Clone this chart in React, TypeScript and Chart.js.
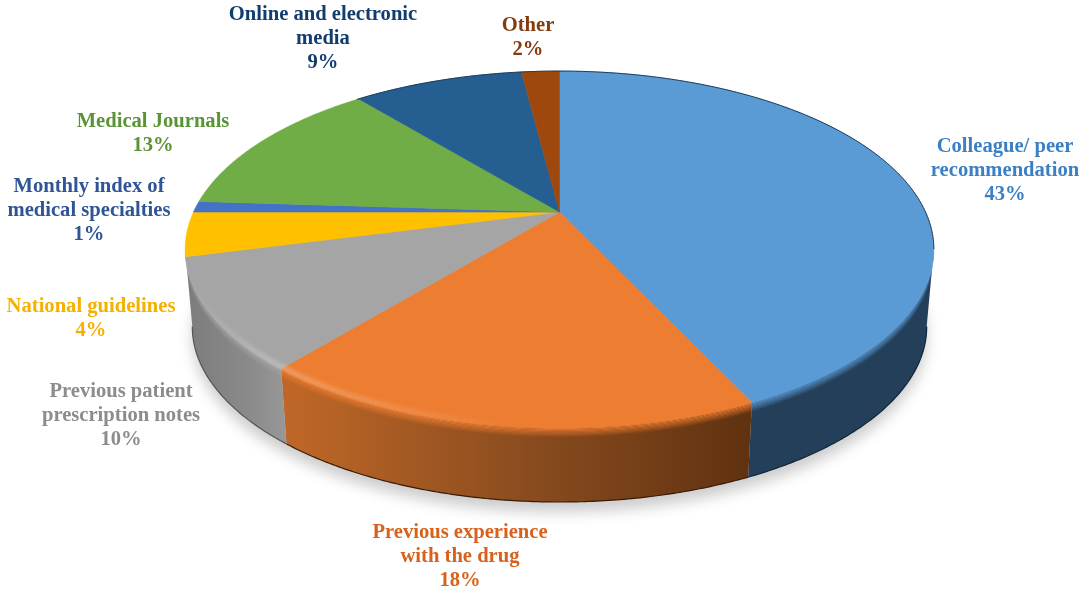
import React, { useEffect, useRef } from "react";
import { Chart, registerables } from "chart.js";

Chart.register(...registerables);

const categoryLines: string[][] = [
  ["Colleague/ peer", "recommendation"],
  ["Previous experience", "with the drug"],
  ["Previous patient", "prescription notes"],
  ["National guidelines"],
  ["Monthly index of", "medical specialties"],
  ["Medical Journals"],
  ["Online and electronic", "media"],
  ["Other"],
];
const categories = categoryLines.map((l) => l.join(" "));
const shares = [43, 18, 10, 4, 1, 13, 9, 2];
const sliceColors = ["#5b9bd5", "#ed7d31", "#a5a5a5", "#ffc000", "#4472c4", "#70ad47", "#255e91", "#9e480e"];
const labelColors = ["#3b7fc4", "#d8621b", "#8c8c8c", "#f5b000", "#2f5597", "#5b9337", "#123d6e", "#843c0c"];

// Where each label block is centred: [x, y of its first line]
const labelAnchors: [number, number][] = [
  [1005, 147], [460, 533], [121, 392], [91, 307], [89, 187], [153, 122], [323, 15], [528, 26],
];
const LINE_H = 23.7;
const FONT = 'bold 20.6px "Liberation Serif", serif';

// Perspective disc: unit circle point (cos a, sin a) -> screen
const CX = 559.5;
const PERSP = -0.21;
const TOP = { a: 366, b: 126, d: 212 };
const BOTTOM = { a: 359, b: 106.6, d: 290 };

const project = (disc: typeof TOP, a: number): [number, number] => {
  const ux = Math.cos(a);
  const uy = Math.sin(a);
  const w = 1 + PERSP * uy;
  return [CX + (disc.a * ux) / w, (disc.b * uy + disc.d) / w];
};
const rimPoint = (a: number, t: number): [number, number] => {
  const p = project(TOP, a);
  const q = project(BOTTOM, a);
  return [p[0] + (q[0] - p[0]) * t, p[1] + (q[1] - p[1]) * t];
};
const STEP = Math.PI / 180 / 2;
const sweep = (from: number, to: number): number[] => {
  const out: number[] = [];
  for (let a = from; a < to; a += STEP) out.push(a);
  out.push(to);
  return out;
};

const SIDE_FROM = (12 * Math.PI) / 180;
const SIDE_TO = (168 * Math.PI) / 180;

const ribbon = (ctx: CanvasRenderingContext2D, from: number, to: number, t0: number, t1: number) => {
  const angles = sweep(from, to);
  ctx.beginPath();
  angles.forEach((a, i) => {
    const p = rimPoint(a, t0);
    if (i === 0) ctx.moveTo(p[0], p[1]);
    else ctx.lineTo(p[0], p[1]);
  });
  angles.slice().reverse().forEach((a) => {
    const p = rimPoint(a, t1);
    ctx.lineTo(p[0], p[1]);
  });
  ctx.closePath();
};

const sideFill = (ctx: CanvasRenderingContext2D, i: number): string | CanvasGradient => {
  if (i === 0) return "#243f59";
  if (i === 1) {
    const g = ctx.createLinearGradient(297, 0, 757, 0);
    g.addColorStop(0, "#bd6627");
    g.addColorStop(0.5, "#8a4c1f");
    g.addColorStop(1, "#5f3110");
    return g;
  }
  const g = ctx.createLinearGradient(186, 0, 299, 0);
  g.addColorStop(0, "#7c7c7c");
  g.addColorStop(0.55, "#8a8a8a");
  g.addColorStop(1, "#9c9c9c");
  return g;
};

const pie3d = {
  id: "pie3d",
  beforeDatasetsDraw(chart: any) {
    const ctx: CanvasRenderingContext2D = chart.ctx;
    const arcs: any[] = chart.getDatasetMeta(0).data;

    // drop shadow
    ctx.save();
    ctx.filter = "blur(7px)";
    ctx.fillStyle = "rgba(0,0,0,0.2)";
    ctx.beginPath();
    sweep(0, Math.PI * 2).forEach((a, i) => {
      const p = project(BOTTOM, a);
      if (i === 0) ctx.moveTo(p[0], p[1] + 10);
      else ctx.lineTo(p[0], p[1] + 10);
    });
    ctx.fill();
    ctx.restore();

    // side wall
    arcs.forEach((arc, i) => {
      if (i > 2) return;
      const from = Math.max(arc.startAngle, SIDE_FROM);
      const to = i === 2 ? SIDE_TO : Math.min(arc.endAngle, SIDE_TO);
      ctx.fillStyle = sideFill(ctx, i);
      ribbon(ctx, from, to, 0, 1);
      ctx.fill();
      // soft bevel between the top face and the wall
      const n = 8;
      ctx.fillStyle = arc.options.backgroundColor;
      for (let k = 0; k < n; k++) {
        ctx.globalAlpha = 1 - (k + 0.5) / n;
        ribbon(ctx, from, to, (k / n) * 0.13, ((k + 1) / n) * 0.13);
        ctx.fill();
      }
      ctx.globalAlpha = 1;
      // dark lower edge
      ctx.strokeStyle = i === 0 ? "#10263a" : i === 1 ? "#3a1c06" : "#555555";
      ctx.lineWidth = 1.2;
      ctx.beginPath();
      sweep(from, to).forEach((a, j) => {
        const p = project(BOTTOM, a);
        if (j === 0) ctx.moveTo(p[0], p[1]);
        else ctx.lineTo(p[0], p[1]);
      });
      ctx.stroke();
    });

    // top face
    arcs.forEach((arc) => {
      const color = arc.options.backgroundColor;
      ctx.beginPath();
      ctx.moveTo(CX, TOP.d);
      sweep(arc.startAngle, arc.endAngle).forEach((a) => {
        const p = project(TOP, a);
        ctx.lineTo(p[0], p[1]);
      });
      ctx.closePath();
      ctx.fillStyle = color;
      ctx.strokeStyle = color;
      ctx.lineWidth = 0.6;
      ctx.fill();
      ctx.stroke();
    });

    // highlight along the front-left rim
    ctx.save();
    ctx.beginPath();
    sweep(0, Math.PI * 2).forEach((a, i) => {
      const p = project(TOP, a);
      if (i === 0) ctx.moveTo(p[0], p[1]);
      else ctx.lineTo(p[0], p[1] + 2);
    });
    ctx.clip();
    ctx.filter = "blur(2px)";
    const glow = ctx.createLinearGradient(190, 0, 520, 0);
    glow.addColorStop(0, "rgba(255,255,255,0)");
    glow.addColorStop(0.25, "rgba(255,255,255,0.28)");
    glow.addColorStop(0.6, "rgba(255,255,255,0.16)");
    glow.addColorStop(1, "rgba(255,255,255,0)");
    ctx.strokeStyle = glow;
    ctx.lineWidth = 5;
    ctx.beginPath();
    sweep((88 * Math.PI) / 180, (170 * Math.PI) / 180).forEach((a, i) => {
      const p = project(TOP, a);
      if (i === 0) ctx.moveTo(p[0], p[1] - 2);
      else ctx.lineTo(p[0], p[1] - 2);
    });
    ctx.stroke();
    ctx.restore();

    // thin dark back rim
    ctx.strokeStyle = "#1d3a57";
    ctx.lineWidth = 1;
    ctx.beginPath();
    sweep((-130 * Math.PI) / 180, SIDE_FROM).forEach((a, i) => {
      const p = project(TOP, a);
      if (i === 0) ctx.moveTo(p[0], p[1]);
      else ctx.lineTo(p[0], p[1]);
    });
    ctx.stroke();
    return false;
  },
  afterDraw(chart: any) {
    const ctx: CanvasRenderingContext2D = chart.ctx;
    ctx.save();
    ctx.font = FONT;
    ctx.textAlign = "center";
    ctx.textBaseline = "middle";
    categoryLines.forEach((lines, i) => {
      const [x, y] = labelAnchors[i];
      ctx.fillStyle = labelColors[i];
      [...lines, `${shares[i]}%`].forEach((line, k) => ctx.fillText(line, x, y + k * LINE_H));
    });
    ctx.restore();
  },
};

export default function App() {
  const ref = useRef<HTMLCanvasElement>(null);
  useEffect(() => {
    document.body.style.margin = "0";
    const chart = new Chart(ref.current!, {
      type: "pie",
      data: {
        labels: categories,
        datasets: [{ data: shares, backgroundColor: sliceColors, borderWidth: 0 }],
      },
      options: {
        responsive: false,
        animation: false,
        plugins: { legend: { display: false }, tooltip: { enabled: false } },
      },
      plugins: [pie3d],
    } as any);
    return () => chart.destroy();
  }, []);
  return <canvas ref={ref} width={1084} height={594} style={{ display: "block" }} />;
}
